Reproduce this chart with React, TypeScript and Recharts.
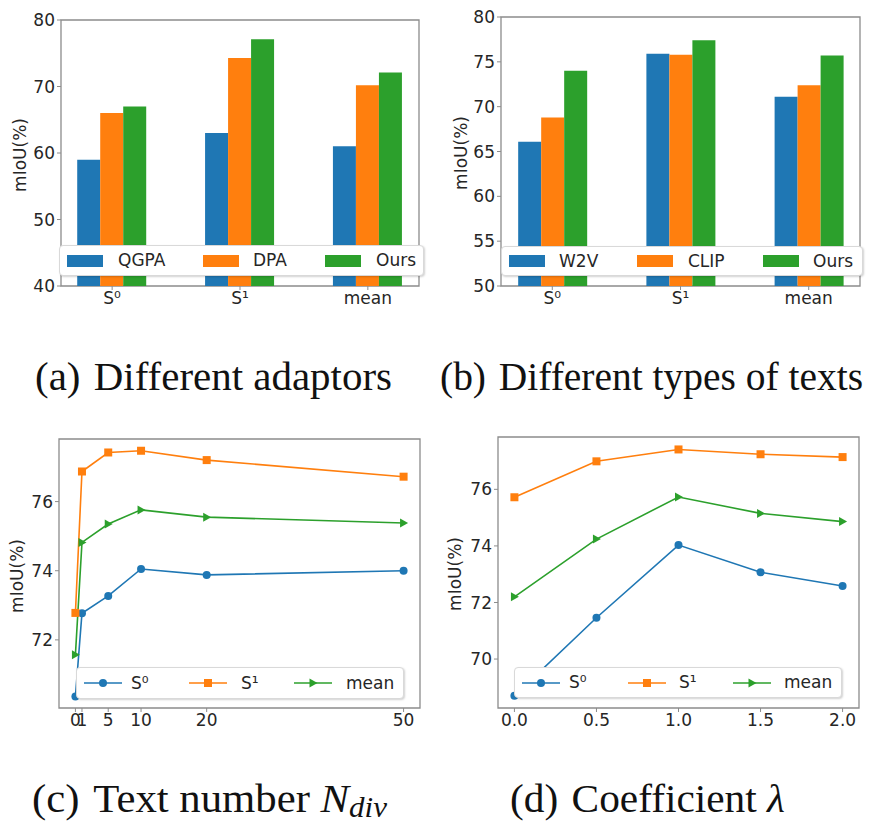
import React from "react";
import { BarChart, Bar, LineChart, Line, XAxis, YAxis, ReferenceArea } from "recharts";

// bar panels (a) and (b)
const barGroups = ["S⁰", "S¹", "mean"];

const adaptorNames = ["QGPA", "DPA", "Ours"];
const qgpaValues = [59, 63, 61];
const dpaValues = [66, 74.3, 70.2];
const oursAdaptorValues = [67, 77.1, 72.1];

const textTypeNames = ["W2V", "CLIP", "Ours"];
const w2vValues = [66.1, 75.9, 71.1];
const clipValues = [68.8, 75.8, 72.4];
const oursTextValues = [74.0, 77.4, 75.7];

// line panels (c) and (d)
const lineNames = ["S⁰", "S¹", "mean"];

const nDivValues = [0, 1, 5, 10, 20, 50];
const nDivS0 = [70.36, 72.77, 73.27, 74.05, 73.88, 74.0];
const nDivS1 = [72.78, 76.87, 77.42, 77.47, 77.2, 76.72];
const nDivMean = [71.57, 74.82, 75.35, 75.76, 75.55, 75.38];

const lambdaValues = [0, 0.5, 1, 1.5, 2];
const lambdaS0 = [68.7, 71.46, 74.03, 73.07, 72.58];
const lambdaS1 = [75.72, 76.99, 77.41, 77.24, 77.14];
const lambdaMean = [72.2, 74.24, 75.73, 75.15, 74.86];

const adaptorTicks = [40, 50, 60, 70, 80];
const textTypeTicks = [50, 55, 60, 65, 70, 75, 80];
const nDivTicks = [72, 74, 76];
const lambdaTicks = [70, 72, 74, 76];

const COLORS = ["#1f77b4", "#ff7f0e", "#2ca02c"];
const FRAME = "#8c8c8c";
const INK = "#262626";
const SANS = "DejaVu Sans";
const tickStyle = { fontFamily: SANS, fontSize: 17, fill: INK };

type Margin = { top: number; right: number; bottom: number; left: number };

function BarPanel(props: {
  left: number;
  top: number;
  width: number;
  height: number;
  margin: Margin;
  names: string[];
  series: number[][];
  yTicks: number[];
}) {
  const { left, top, width, height, margin, names, series, yTicks } = props;
  const rows = barGroups.map((g, i) => {
    const row: any = { x: i, group: g };
    names.forEach((n, k) => {
      row[n] = series[k][i];
    });
    return row;
  });
  const xDom: [number, number] = [-0.4, 2.4];
  const yDom: [number, number] = [yTicks[0], yTicks[yTicks.length - 1]];
  return (
    <div style={{ position: "absolute", left, top }}>
      <BarChart width={width} height={height} data={rows} margin={margin} barGap={0}>
        <XAxis
          dataKey="x"
          type="number"
          domain={xDom}
          allowDataOverflow
          ticks={[0, 1, 2]}
          interval={0}
          tickFormatter={(v: number) => barGroups[v]}
          axisLine={false}
          tickLine={{ stroke: FRAME }}
          tickSize={4}
          tick={tickStyle}
          height={30}
        />
        <YAxis
          type="number"
          domain={yDom}
          allowDataOverflow
          ticks={yTicks}
          interval={0}
          axisLine={false}
          tickLine={{ stroke: FRAME }}
          tickSize={4}
          tick={tickStyle}
          width={50}
        />
        {names.map((n, k) => (
          <Bar key={n} dataKey={n} fill={COLORS[k]} barSize={23} isAnimationActive={false} />
        ))}
        <ReferenceArea
          x1={xDom[0]}
          x2={xDom[1]}
          y1={yDom[0]}
          y2={yDom[1]}
          fill="none"
          stroke={FRAME}
          strokeWidth={1.3}
          ifOverflow="visible"
        />
      </BarChart>
    </div>
  );
}

const marker = (kind: number, color: string) => (p: any) => {
  const { cx, cy, index } = p;
  if (cx == null || cy == null) return <g key={index} />;
  if (kind === 0) return <circle key={index} cx={cx} cy={cy} r={4} fill={color} />;
  if (kind === 1)
    return <rect key={index} x={cx - 4} y={cy - 4} width={8} height={8} fill={color} />;
  return (
    <polygon
      key={index}
      points={`${cx + 4.5},${cy} ${cx - 3.5},${cy - 4.5} ${cx - 3.5},${cy + 4.5}`}
      fill={color}
    />
  );
};

function LinePanel(props: {
  left: number;
  top: number;
  width: number;
  height: number;
  margin: Margin;
  xs: number[];
  series: number[][];
  xDom: [number, number];
  yDom: [number, number];
  yTicks: number[];
  fmt: (v: number) => string;
}) {
  const { left, top, width, height, margin, xs, series, xDom, yDom, yTicks, fmt } = props;
  const rows = xs.map((x, i) => ({ x, s0: series[0][i], s1: series[1][i], mean: series[2][i] }));
  const keys = ["s0", "s1", "mean"];
  return (
    <div style={{ position: "absolute", left, top }}>
      <LineChart width={width} height={height} data={rows} margin={margin}>
        <XAxis
          dataKey="x"
          type="number"
          domain={xDom}
          allowDataOverflow
          ticks={xs}
          interval={0}
          tickFormatter={fmt}
          axisLine={false}
          tickLine={{ stroke: FRAME }}
          tickSize={4}
          tick={tickStyle}
          height={30}
        />
        <YAxis
          type="number"
          domain={yDom}
          allowDataOverflow
          ticks={yTicks}
          interval={0}
          axisLine={false}
          tickLine={{ stroke: FRAME }}
          tickSize={4}
          tick={tickStyle}
          width={50}
        />
        <ReferenceArea
          x1={xDom[0]}
          x2={xDom[1]}
          y1={yDom[0]}
          y2={yDom[1]}
          fill="none"
          stroke={FRAME}
          strokeWidth={1.3}
          ifOverflow="visible"
        />
        {keys.map((k, i) => (
          <Line
            key={k}
            dataKey={k}
            name={lineNames[i]}
            stroke={COLORS[i]}
            strokeWidth={1.6}
            dot={marker(i, COLORS[i])}
            isAnimationActive={false}
          />
        ))}
      </LineChart>
    </div>
  );
}

function Legend(props: {
  left: number;
  top: number;
  width: number;
  height: number;
  names: string[];
  handleX: number[];
  textX: number[];
  kind: "bar" | "line";
}) {
  const { left, top, width, height, names, handleX, textX, kind } = props;
  return (
    <div
      style={{
        position: "absolute",
        left,
        top,
        width,
        height,
        boxSizing: "border-box",
        background: "#fff",
        border: "1px solid #d9d9d9",
        borderRadius: 4,
        boxShadow: "1px 1px 2px rgba(0,0,0,0.18)",
        fontFamily: SANS,
        fontSize: 17,
        color: INK,
      }}
    >
      {names.map((n, i) => (
        <React.Fragment key={n + i}>
          {kind === "bar" ? (
            <div
              style={{
                position: "absolute",
                left: handleX[i],
                top: height / 2 - 7,
                width: 36,
                height: 12,
                background: COLORS[i],
              }}
            />
          ) : (
            <svg
              style={{ position: "absolute", left: handleX[i], top: height / 2 - 8 }}
              width={38}
              height={14}
            >
              <line x1={0} y1={7} x2={38} y2={7} stroke={COLORS[i]} strokeWidth={1.6} />
              {marker(i, COLORS[i])({ cx: 19, cy: 7, index: 0 })}
            </svg>
          )}
          <div
            style={{
              position: "absolute",
              left: textX[i],
              top: 0,
              height: height - 2,
              lineHeight: `${height - 2}px`,
              whiteSpace: "nowrap",
            }}
          >
            {n}
          </div>
        </React.Fragment>
      ))}
    </div>
  );
}

export default function App() {
  const capStyle = {
    fontFamily: "Liberation Serif",
    fontSize: 40,
    fill: "#111",
    lengthAdjust: "spacingAndGlyphs",
  } as const;
  const yLabel = { fontFamily: SANS, fontSize: 17, fill: INK, textAnchor: "middle" } as const;
  return (
    <div
      style={{ position: "absolute", left: 0, top: 0, width: 871, height: 822, background: "#fff" }}
    >
      <BarPanel
        left={0}
        top={0}
        width={435}
        height={330}
        margin={{ top: 20, right: 16, bottom: 14, left: 11 }}
        names={adaptorNames}
        series={[qgpaValues, dpaValues, oursAdaptorValues]}
        yTicks={adaptorTicks}
      />
      <BarPanel
        left={435}
        top={0}
        width={436}
        height={330}
        margin={{ top: 17, right: 11, bottom: 14, left: 16 }}
        names={textTypeNames}
        series={[w2vValues, clipValues, oursTextValues]}
        yTicks={textTypeTicks}
      />
      <LinePanel
        left={0}
        top={420}
        width={435}
        height={330}
        margin={{ top: 19, right: 15, bottom: 12, left: 9 }}
        xs={nDivValues}
        series={[nDivS0, nDivS1, nDivMean]}
        xDom={[-2.5, 52.5]}
        yDom={[70.03, 77.81]}
        yTicks={nDivTicks}
        fmt={(v) => String(v)}
      />
      <LinePanel
        left={435}
        top={420}
        width={436}
        height={330}
        margin={{ top: 17, right: 12, bottom: 12, left: 13 }}
        xs={lambdaValues}
        series={[lambdaS0, lambdaS1, lambdaMean]}
        xDom={[-0.1, 2.1]}
        yDom={[68.27, 77.85]}
        yTicks={lambdaTicks}
        fmt={(v) => v.toFixed(1)}
      />

      <Legend left={59} top={245} width={365} height={31} names={adaptorNames} handleX={[7, 143, 265]} textX={[58, 193, 316]} kind="bar" />
      <Legend left={501} top={246} width={362} height={30} names={textTypeNames} handleX={[7, 135, 261]} textX={[57, 186, 311]} kind="bar" />
      <Legend left={76} top={667} width={328} height={32} names={lineNames} handleX={[7, 112, 217]} textX={[54, 164, 269]} kind="line" />
      <Legend left={514} top={667} width={328} height={31} names={lineNames} handleX={[7, 113, 218]} textX={[54, 164, 269]} kind="line" />

      <svg
        width={871}
        height={822}
        style={{ position: "absolute", left: 0, top: 0, pointerEvents: "none" }}
      >
        <text transform="translate(26,155) rotate(-90)" {...yLabel}>mIoU(%)</text>
        <text transform="translate(467,153) rotate(-90)" {...yLabel}>mIoU(%)</text>
        <text transform="translate(23,576) rotate(-90)" {...yLabel}>mIoU(%)</text>
        <text transform="translate(461,574) rotate(-90)" {...yLabel}>mIoU(%)</text>

        <text x={35} y={390} textLength={357} {...capStyle}>
          (a)<tspan dx={13}>Different adaptors</tspan>
        </text>
        <text x={440} y={390} textLength={423} {...capStyle}>
          (b)<tspan dx={13}>Different types of texts</tspan>
        </text>
        <text x={32} y={812} textLength={355} {...capStyle}>
          (c)<tspan dx={13}>Text number </tspan>
          <tspan fontStyle="italic">N</tspan>
          <tspan fontStyle="italic" fontSize={29} dy={5}>div</tspan>
        </text>
        <text x={510} y={812} textLength={275} {...capStyle}>
          (d)<tspan dx={13}>Coefficient </tspan>
          <tspan fontStyle="italic">λ</tspan>
        </text>
      </svg>
    </div>
  );
}
